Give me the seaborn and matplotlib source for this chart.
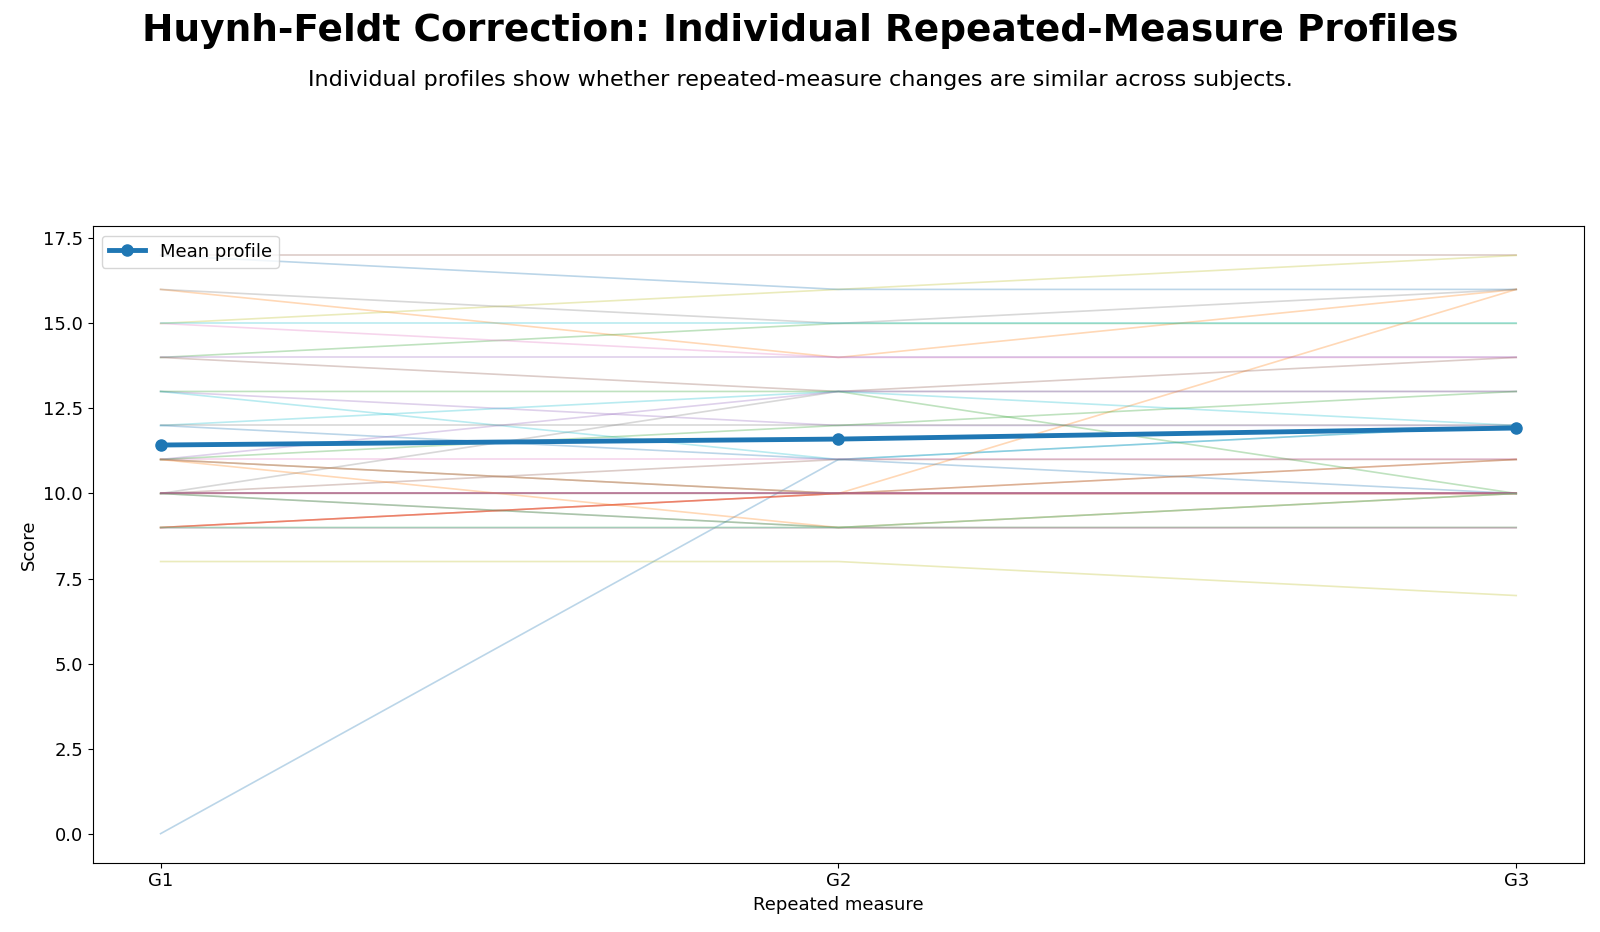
import numpy as np
import pandas as pd
import matplotlib
matplotlib.use("Agg")
import matplotlib.pyplot as plt
import seaborn as sns

# repeated measures
measures = ["G1", "G2", "G3"]

# individual subject scores
g1_scores = [0, 16, 14, 9, 13, 17, 15, 10, 15, 13,
             17, 11, 10, 10, 14, 14, 11, 16, 8, 12,
             12, 9, 13, 10, 11, 10, 9, 12, 11, 15,
             10, 11, 11, 9, 11, 10, 10, 10, 9, 9]
g2_scores = [11, 14, 15, 10, 12, 17, 14, 13, 16, 11,
             16, 10, 9, 10, 14, 13, 11, 15, 8, 13,
             11, 10, 13, 10, 13, 11, 9, 12, 10, 15,
             10, 9, 12, 10, 10, 10, 10, 9, 9, 9]
g3_scores = [12, 16, 15, 10, 12, 17, 14, 13, 17, 12,
             16, 16, 9, 10, 14, 14, 11, 16, 7, 12,
             10, 11, 10, 10, 13, 11, 9, 12, 10, 15,
             10, 10, 13, 10, 10, 11, 10, 9, 10, 10]

n_subj = len(g1_scores)
df = pd.DataFrame({
    "subject": np.repeat(np.arange(n_subj), 3),
    "pos": np.tile(np.arange(3), n_subj),
    "score": np.column_stack([g1_scores, g2_scores, g3_scores]).ravel(),
})

plt.rcParams["font.size"] = 13

fig, ax = plt.subplots(figsize=(16, 9.32), dpi=100)

# one faint line per subject, colours cycling through tab10
tab10 = sns.color_palette("tab10")
pal = [tab10[i % 10] for i in range(n_subj)]
sns.lineplot(data=df, x="pos", y="score", hue="subject", units="subject",
             estimator=None, palette=pal, alpha=0.3, linewidth=1.2,
             legend=False, ax=ax)

# mean profile on top
mean_df = df.groupby("pos", as_index=False)["score"].mean()
ax.plot(mean_df["pos"], mean_df["score"], color="#1f77b4", linewidth=3.5,
        marker="o", markersize=8, label="Mean profile", zorder=5)

ax.set_xticks(range(len(measures)))
ax.set_xticklabels(measures)
ax.set_xlim(-0.1, 2.1)
ax.set_xlabel("Repeated measure", fontsize=13)
ax.set_ylabel("Score", fontsize=13)
ax.tick_params(labelsize=13)
ax.legend(loc="upper left", fontsize=13)

fig.suptitle("Huynh-Feldt Correction: Individual Repeated-Measure Profiles",
             fontsize=27, fontweight="bold", y=0.986)
fig.text(0.5, 0.9146, "Individual profiles show whether repeated-measure changes are similar across subjects.",
         ha="center", va="center", fontsize=16)

fig.subplots_adjust(left=0.058, right=0.99, top=0.757, bottom=0.0745)
fig.savefig("out.png", dpi=100)
